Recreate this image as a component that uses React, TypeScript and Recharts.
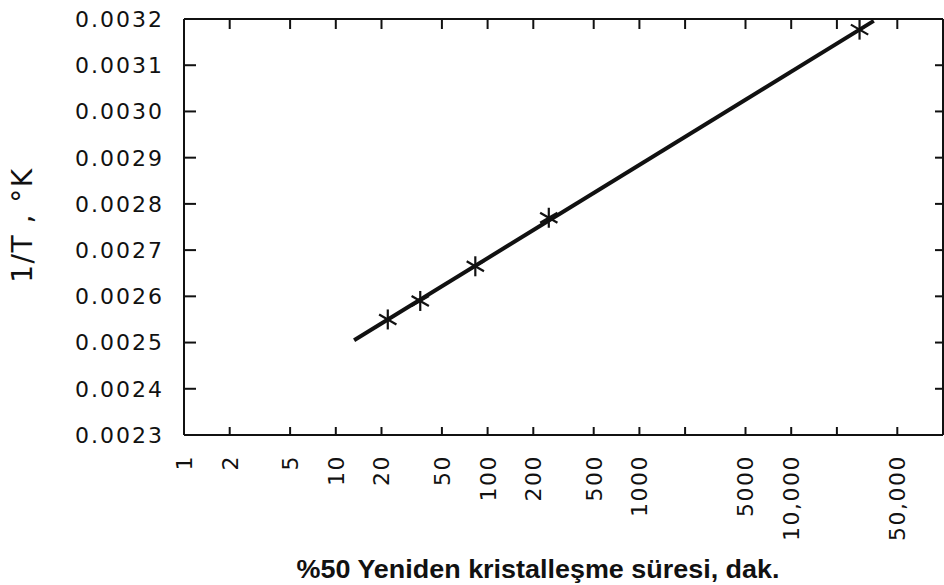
import { ComposedChart, Line, Scatter, XAxis, YAxis, Label } from 'recharts';

// recrystallization time (min) vs 1/T
const sampleTimes = [22, 36, 83, 253, 28200];
const inverseTemps = [0.00255, 0.00259, 0.002665, 0.00277, 0.003177];

// fitted straight line, read at its two ends
const fitTimes = [13.2, 35000];
const fitInverseTemps = [0.002505, 0.003196];

const xTicks = [1, 2, 5, 10, 20, 50, 100, 200, 500, 1000, 2000, 5000, 10000, 20000, 50000];
const xTickLabels = ['1', '2', '5', '10', '20', '50', '100', '200', '500', '1000', '', '5000', '10,000', '', '50,000'];
const yTicks = [0.0023, 0.0024, 0.0025, 0.0026, 0.0027, 0.0028, 0.0029, 0.003, 0.0031, 0.0032];
const yTickLabels = ['0.0023', '0.0024', '0.0025', '0.0026', '0.0027', '0.0028', '0.0029', '0.0030', '0.0031', '0.0032'];

const points = sampleTimes.map((x, i) => ({ x, y: inverseTemps[i] }));
const fitLine = fitTimes.map((x, i) => ({ x, y: fitInverseTemps[i] }));

const FONT = 'DejaVu Sans, sans-serif';
const X_DOMAIN = [1, 100000];
const Y_DOMAIN = [0.0023, 0.0032];

function XTick({ x, y, payload }: any) {
  const i = xTicks.indexOf(payload.value);
  return (
    <g transform={`translate(${x},${y})`}>
      <text transform="rotate(-90)" textAnchor="end" dy="0.36em" fontFamily={FONT} fontSize={22} letterSpacing={1.5} fill="#111">
        {i >= 0 ? xTickLabels[i] : ''}
      </text>
    </g>
  );
}

function YTick({ x, y, payload }: any) {
  const i = yTicks.findIndex((t) => Math.abs(t - payload.value) < 1e-9);
  return (
    <text x={x} y={y} textAnchor="end" dy="0.36em" fontFamily={FONT} fontSize={22} letterSpacing={2} fill="#111">
      {i >= 0 ? yTickLabels[i] : ''}
    </text>
  );
}

function Asterisk({ cx, cy }: any) {
  const r = 10;
  const arms = [90, 30, 150].map((a) => {
    const t = (a * Math.PI) / 180;
    return [Math.cos(t) * r, Math.sin(t) * r];
  });
  return (
    <g stroke="#111" strokeWidth={2.2}>
      {arms.map(([dx, dy], i) => (
        <line key={i} x1={cx - dx} y1={cy - dy} x2={cx + dx} y2={cy + dy} />
      ))}
    </g>
  );
}

const blank = () => '';

export default function App() {
  return (
    <div style={{ position: 'absolute', left: 0, top: 0, width: 944, height: 585, background: '#fff' }}>
      <ComposedChart width={944} height={585} margin={{ top: 19, right: 1, bottom: 0, left: 0 }}>
        {/* bottom axis: labels only */}
        <XAxis
          xAxisId="b"
          type="number"
          dataKey="x"
          scale="log"
          domain={X_DOMAIN}
          ticks={xTicks}
          interval={0}
          height={150}
          stroke="#111"
          strokeWidth={2}
          tickLine={false}
          tickMargin={14}
          tick={<XTick />}
          allowDataOverflow
        >
          <Label
            content={() => (
              <text x={538} y={578} textAnchor="middle" fontFamily="Liberation Sans, Arial, sans-serif" fontWeight="bold" fontSize={25} textLength={483} lengthAdjust="spacingAndGlyphs" fill="#111">
                %50 Yeniden kristalleşme süresi, dak.
              </text>
            )}
          />
        </XAxis>
        {/* inward tick marks, all four sides */}
        <XAxis xAxisId="bi" orientation="bottom" mirror type="number" dataKey="x" scale="log" domain={X_DOMAIN} ticks={xTicks} interval={0} height={10} stroke="#111" strokeWidth={2} tickSize={8} tickFormatter={blank} allowDataOverflow />
        <XAxis xAxisId="t" orientation="top" mirror type="number" dataKey="x" scale="log" domain={X_DOMAIN} ticks={xTicks} interval={0} height={10} stroke="#111" strokeWidth={2} tickSize={10} tickFormatter={blank} allowDataOverflow />
        <YAxis
          yAxisId="l"
          type="number"
          dataKey="y"
          domain={Y_DOMAIN}
          ticks={yTicks}
          interval={0}
          width={184}
          stroke="#111"
          strokeWidth={2}
          tickLine={false}
          tickMargin={14}
          tick={<YTick />}
          allowDataOverflow
        >
          <Label
            content={() => (
              <text x={32} y={225} transform="rotate(-90 32 225)" textAnchor="middle" fontFamily={FONT} fontSize={28} letterSpacing={1.5} fill="#111">
                1/T ,  °K
              </text>
            )}
          />
        </YAxis>
        <YAxis yAxisId="li" orientation="left" mirror type="number" dataKey="y" domain={Y_DOMAIN} ticks={yTicks} interval={0} width={12} stroke="#111" strokeWidth={2} tickSize={12} tickFormatter={blank} allowDataOverflow />
        <YAxis yAxisId="r" orientation="right" mirror type="number" dataKey="y" domain={Y_DOMAIN} ticks={yTicks} interval={0} width={10} stroke="#111" strokeWidth={2} tickSize={8} tickFormatter={blank} allowDataOverflow />
        <Line
          xAxisId="b"
          yAxisId="l"
          data={fitLine}
          dataKey="y"
          type="linear"
          stroke="#111"
          strokeWidth={4}
          dot={false}
          activeDot={false}
          isAnimationActive={false}
        />
        <Scatter
          xAxisId="b"
          yAxisId="l"
          data={points}
          dataKey="y"
          shape={<Asterisk />}
          isAnimationActive={false}
        />
      </ComposedChart>
    </div>
  );
}
